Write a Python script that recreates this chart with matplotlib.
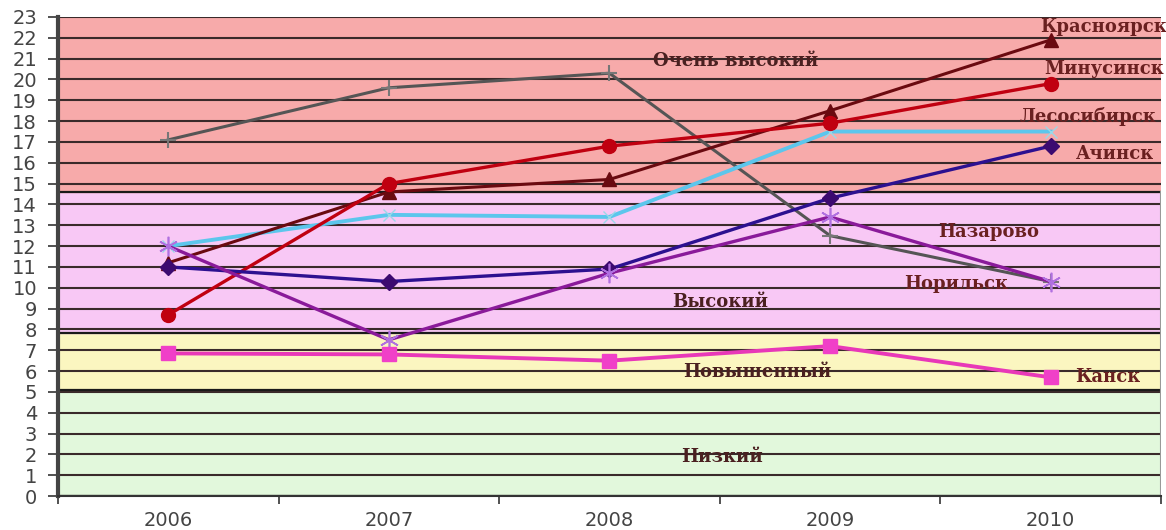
import matplotlib.pyplot as plt
import numpy as np

years = ['2006', '2007', '2008', '2009', '2010']

krasnoyarsk = [11.2, 14.6, 15.2, 18.5, 21.9]
minusinsk = [8.7, 15.0, 16.8, 17.9, 19.8]
lesosibirsk = [12.0, 13.5, 13.4, 17.5, 17.5]
achinsk = [11.0, 10.3, 10.9, 14.3, 16.8]
norilsk = [17.1, 19.6, 20.3, 12.5, 10.3]
nazarovo = [12.0, 7.5, 10.7, 13.4, 10.3]
kansk = [6.85, 6.8, 6.5, 7.2, 5.7]

# уровни: (низ, верх, цвет, подпись)
levels = [(0, 5.1, '#e2f8dc', 'Низкий'),
          (5.1, 7.85, '#fbf6c0', 'Повышенный'),
          (7.85, 14.6, '#f8c8f5', 'Высокий'),
          (14.6, 23, '#f7aaaa', 'Очень высокий')]

fig = plt.figure(figsize=(11.66, 5.3), dpi=100)
ax = fig.add_axes([0.0497, 0.064, 0.946, 0.904])
x = np.arange(len(years))

for lo, hi, col, name in levels:
    ax.axhspan(lo, hi, color=col, zorder=0)
    ax.axhline(lo, color='#1a1a1a', lw=1.6, zorder=1)

for v in range(0, 24):
    ax.axhline(v, color='#3a2a2a', lw=1.5, zorder=1)

ax.plot(x, norilsk, color='#555555', lw=2.2, marker='+', ms=12, mew=1.5, mec='#777777', zorder=3)
ax.plot(x, lesosibirsk, color='#5cc6ec', lw=2.8, marker='x', ms=8, mew=1, mec='#9ad8e8', zorder=3)
ax.plot(x, krasnoyarsk, color='#6a0a10', lw=2.2, marker='^', ms=10, zorder=4)
ax.plot(x, minusinsk, color='#c00010', lw=2.4, marker='o', ms=10, zorder=4)
ax.plot(x, achinsk, color='#2c1090', lw=2.4, marker='D', ms=8, mfc='#3c0a70', mec='#3c0a70', zorder=4)
ax.plot(x, nazarovo, color='#8a1a9a', lw=2.4, marker=(6, 2, 0), ms=14, mew=1.2, mec='#b070e0', zorder=4)
ax.plot(x, kansk, color='#e838b8', lw=2.8, marker='s', ms=10, mfc='#f040c8', mec='#f040c8', zorder=4)

ax.set_xlim(-0.5, 4.5)
ax.set_ylim(0, 23)
ax.set_yticks(range(0, 24))
ax.set_xticks(x)
ax.set_xticklabels(years)
ax.set_xticks(np.arange(-0.5, 4.6, 1), minor=True)
ax.tick_params(axis='x', which='major', length=0, pad=11, labelsize=14, labelcolor='#444444')
ax.tick_params(axis='x', which='minor', length=6, width=1.2, color='#333333')
ax.tick_params(axis='y', length=7, width=1.2, color='#333333', labelsize=14,
               labelcolor='#444444', pad=8)

for s in ['top', 'right']:
    ax.spines[s].set_visible(False)
ax.spines['left'].set_linewidth(3)
ax.spines['left'].set_color('#444444')
ax.spines['bottom'].set_linewidth(1.5)
ax.spines['bottom'].set_color('#333333')
ax.axvline(4.5, ymin=0, ymax=14.6 / 23, color='#999999', lw=1.5, zorder=2)

txt = dict(family='DejaVu Serif', fontsize=13, fontweight='bold', color='#4a2020', zorder=6)
ax.text(2.57, 20.9, 'Очень высокий', ha='center', va='center', **txt)
ax.text(2.50, 9.3, 'Высокий', ha='center', va='center', **txt)
ax.text(2.67, 5.95, 'Повышенный', ha='center', va='center', **txt)
ax.text(2.51, 1.87, 'Низкий', ha='center', va='center', **txt)

lab = dict(family='DejaVu Serif', fontsize=13, fontweight='bold', color='#6a2020',
           zorder=6, clip_on=False)
ax.text(4.24, 22.5, 'Красноярск', ha='center', va='center', **lab)
ax.text(4.24, 20.5, 'Минусинск', ha='center', va='center', **lab)
ax.text(4.17, 18.2, 'Лесосибирск', ha='center', va='center', **lab)
ax.text(4.29, 16.4, 'Ачинск', ha='center', va='center', **lab)
ax.text(3.72, 12.7, 'Назарово', ha='center', va='center', **lab)
ax.text(3.57, 10.2, 'Норильск', ha='center', va='center', **lab)
ax.text(4.11, 5.7, 'Канск', ha='left', va='center', **lab)

fig.savefig('out.png', dpi=100)
